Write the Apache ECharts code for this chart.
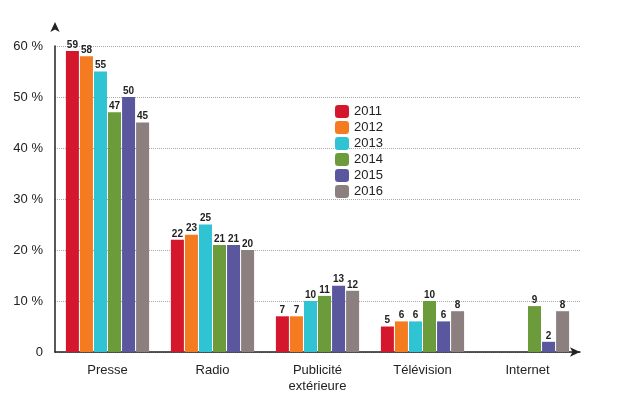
<!DOCTYPE html><html><head><meta charset="utf-8">
<script src="https://cdn.jsdelivr.net/npm/echarts@6/dist/echarts.min.js"></script>
<style>html,body{margin:0;background:#fff}#c{width:644px;height:414px}</style></head><body><div id="c"></div>
<script>
const categories=['Presse','Radio','Publicité\nextérieure','Télévision','Internet'];
const years=['2011','2012','2013','2014','2015','2016'];
const v2011=[59,22,7,5,null];
const v2012=[58,23,7,6,null];
const v2013=[55,25,10,6,null];
const v2014=[47,21,11,10,9];
const v2015=[50,21,13,6,2];
const v2016=[45,20,12,8,8];
const values=[v2011,v2012,v2013,v2014,v2015,v2016];
const colors=['#d4172c','#f47b20','#2fc3d3','#6b9b3a','#5b579f','#8b7f7f'];
const chart=echarts.init(document.getElementById('c'));
chart.setOption({
 animation:false,
 grid:{left:55,right:64,top:46,bottom:62},
 legend:{orient:'vertical',left:330,top:100,itemWidth:14,itemHeight:13,itemGap:3,
  textStyle:{fontFamily:'Liberation Sans',fontSize:13,color:'#222'},data:years},
 xAxis:{type:'category',data:categories,
  axisLine:{lineStyle:{color:'#222',width:1.5},symbol:['none','arrow'],symbolSize:[7,10]},
  axisTick:{show:false},
  axisLabel:{fontFamily:'Liberation Sans',fontSize:13,color:'#222',margin:10,lineHeight:16}},
 yAxis:{type:'value',min:0,max:60,interval:10,
  axisLine:{show:true,lineStyle:{color:'#222',width:1.5},symbol:['none','arrow'],symbolSize:[7,10],symbolOffset:[0,24]},
  axisLabel:{fontFamily:'Liberation Sans',fontSize:13,color:'#222',formatter:v=>v===0?'0':v+' %',margin:12},
  splitLine:{lineStyle:{color:'#aaa',type:'dotted'}}},
 series:years.map((y,i)=>({name:y,type:'bar',data:values[i],barWidth:13,barGap:'8%',barCategoryGap:'22%',
  itemStyle:{color:colors[i]},
  label:{show:true,position:'top',distance:1,fontFamily:'Liberation Sans',fontWeight:'bold',fontSize:10,color:'#222'}}))
});
</script></body></html>
